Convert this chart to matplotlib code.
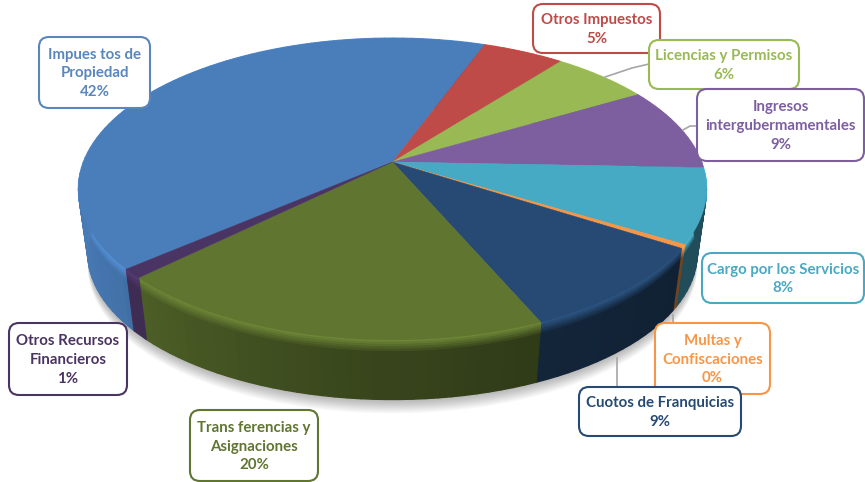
import numpy as np
import matplotlib
matplotlib.use("Agg")
import matplotlib.pyplot as plt
from matplotlib.collections import PolyCollection
from matplotlib.patches import FancyBboxPatch, Polygon

# slices, clockwise, starting at the blue one
names = ["Impues tos de\nPropiedad", "Otros Impuestos", "Licencias y Permisos",
         "Ingresos\nintergubermamentales", "Cargo por los Servicios",
         "Multas y\nConfiscaciones", "Cuotos de Franquicias",
         "Trans ferencias y\nAsignaciones", "Otros Recursos\nFinancieros"]
percents = ["42%", "5%", "6%", "9%", "8%", "0%", "9%", "20%", "1%"]
values = [42, 5, 6, 9, 8, 0.4, 9.5, 19.4, 1]
colors = ["#4a7ebb", "#be4b48", "#98b954", "#7d5fa0", "#46aac5",
          "#f79646", "#264a73", "#5f7530", "#4a3463"]
text_colors = ["#5a86bd", "#be4b48", "#98b954", "#7d5fa0", "#4aa8c2",
               "#f79646", "#264a73", "#5f7530", "#4a3463"]

# box left, top, right, bottom in pixels
boxes = [(39, 37, 150, 108), (533, 4, 660, 53), (649, 40, 799, 89),
         (697, 89, 864, 161), (702, 253, 864, 303), (655, 323, 770, 394),
         (579, 387, 741, 436), (190, 410, 318, 481), (9, 323, 127, 395)]
leaders = [[(605, 77), (632, 68), (649, 64)], [(683, 130), (690, 126), (697, 126)],
           [(673, 315), (673, 323)], [(617, 358), (617, 387)]]

START = 229.6
CX, CY = 392.5, 162
RX, RY = 309, 146
K = 0.179
DEPTH = 65
SHRINK = 0.97


def rim(theta, depth=0.0):
    # point on the perspective circle, depth 0 is the top face and 1 the bottom
    t = np.radians(theta)
    w = 1 + K * np.cos(t)
    s = 1 + (SHRINK - 1) * depth
    return np.column_stack((CX + s * RX * np.sin(t) / w,
                            CY + DEPTH * depth - s * RY * np.cos(t) / w))


def rgb(c):
    return np.array(matplotlib.colors.to_rgb(c))


def wall_shade(theta):
    return np.interp((theta + 360) % 360, [90, 125, 157, 190, 225, 232, 250, 275, 360],
                     [.45, .45, .5, .62, .8, .9, .95, 1, 1])


fig = plt.figure(figsize=(8.65, 4.82), dpi=100)
ax = fig.add_axes([0, 0, 1, 1])
ax.set_xlim(0, 865)
ax.set_ylim(482, 0)
ax.axis("off")

# soft shadow under the pie
circle = np.linspace(0, 360, 241)
for i in range(12):
    pts = rim(circle, 1) + [0, 14 - i * 1.1]
    ax.add_patch(Polygon(pts, closed=True, fc="k", ec="none", alpha=0.022, zorder=1))

edges = START + np.cumsum([0] + values) / sum(values) * 360
rows = np.array([0, .04, .08, .12, .16, .2, .3, 1])
for i, c in enumerate(colors):
    steps = max(int((edges[i + 1] - edges[i]) / 2), 1)
    th = np.linspace(edges[i], edges[i + 1], steps + 1)

    polys, fc = [], []
    for r0, r1 in zip(rows[:-1], rows[1:]):
        upper, lower = rim(th, r0), rim(th, r1)
        for j in range(steps):
            polys.append([upper[j], upper[j + 1], lower[j + 1], lower[j]])
            mid = (th[j] + th[j + 1]) / 2
            base = rgb(c) * wall_shade(mid)
            glow = np.clip(1 - r0 / .2, 0, 1)
            fc.append(base + (rgb(c) * 1.15 - base).clip(0) * glow)
    fc = np.clip(fc, 0, 1)
    ax.add_collection(PolyCollection(polys, facecolors=fc, edgecolors=fc, linewidths=1.0, zorder=2))

for i, c in enumerate(colors):
    th = np.linspace(edges[i], edges[i + 1], max(int(edges[i + 1] - edges[i]), 1) + 2)
    pts = np.vstack(([CX, CY], rim(th)))
    ax.add_patch(Polygon(pts, closed=True, fc=c, ec=c, lw=0.3, zorder=3))

for line in leaders:
    xs, ys = zip(*line)
    ax.plot(xs, ys, color="#a6a6a6", lw=1.2, zorder=4)

# boxes in the order they overlap
for i in [0, 8, 7, 1, 2, 3, 4, 5, 6]:
    x0, y0, x1, y1 = boxes[i]
    ax.add_patch(FancyBboxPatch((x0 + 10, y0 + 10), x1 - x0 - 20, y1 - y0 - 20,
                                boxstyle="round,pad=10,rounding_size=10", fc="white",
                                ec=text_colors[i], lw=1.5, zorder=5 + i * 0.1 if i != 6 else 6.5))
    ax.text((x0 + x1) / 2, (y0 + y1) / 2 + 1, names[i] + "\n" + percents[i],
            color=text_colors[i], ha="center", va="center", family="Lato",
            fontweight="bold", fontsize=10.8, linespacing=1.42,
            zorder=5.05 + i * 0.1 if i != 6 else 6.6)

fig.savefig("out.png", dpi=100)
